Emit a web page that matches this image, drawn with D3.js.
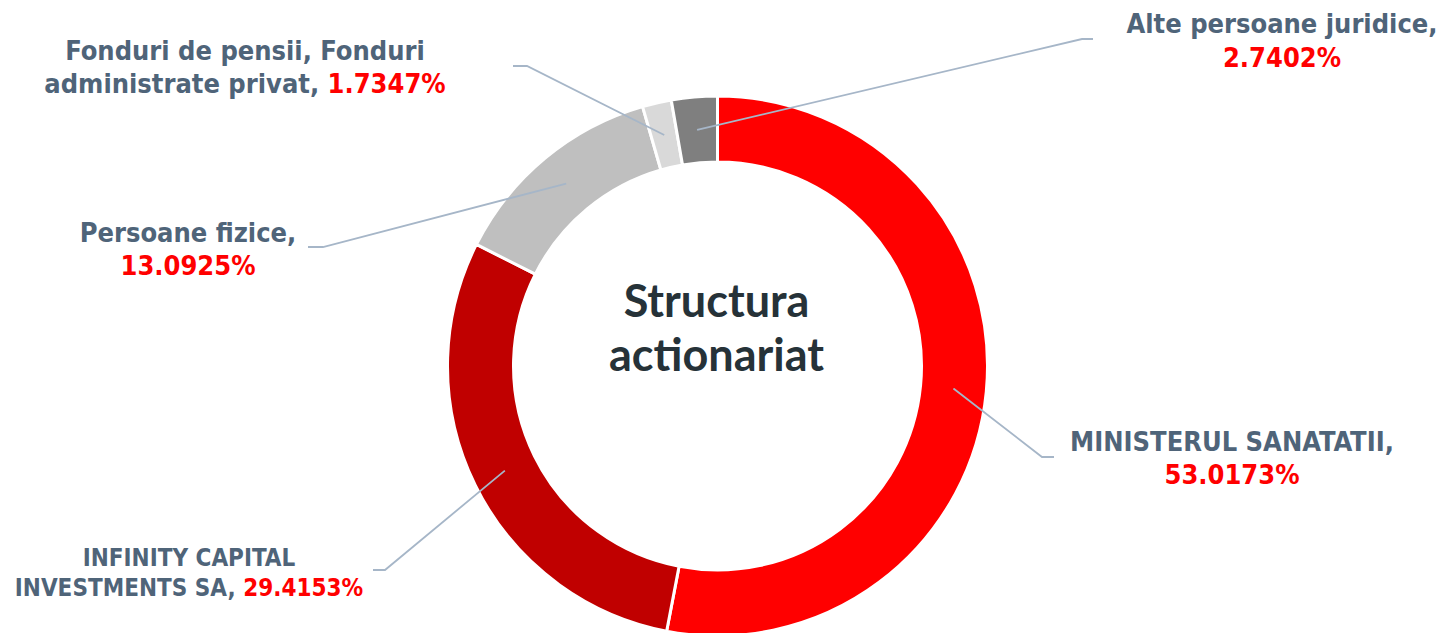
<!DOCTYPE html>
<html>
<head>
<meta charset="utf-8">
<script src="https://cdn.jsdelivr.net/npm/d3@7"></script>
<style>
  body { margin: 0; background: #fff; }
  svg { display: block; }
</style>
</head>
<body>
<svg id="drawing_region"></svg>
<script>
// shareholders, clockwise from 12 o'clock
const categories = [
    "MINISTERUL SANATATII",
    "INFINITY CAPITAL INVESTMENTS SA",
    "Persoane fizice",
    "Fonduri de pensii, Fonduri administrate privat",
    "Alte persoane juridice"
];
const shares = [53.0173, 29.4153, 13.0925, 1.7347, 2.7402];
const colors = ['#ff0000', '#c00000', '#bfbfbf', '#d9d9d9', '#7f7f7f'];

const title_lines = ["Structura", "actionariat"];

// where each callout sits (kink of leader, end of leader, label centre, words on first line)
const callouts = [
    {kink: [1042, 457], end: [1054, 457], x: 1232, y: 451, words: 2, size: 27, gap: 33},
    {kink: [385, 570],  end: [373, 570],  x: 189,  y: 566, words: 2, size: 24, gap: 30},
    {kink: [323, 247],  end: [308, 247],  x: 188,  y: 242, words: 2, size: 27, gap: 33},
    {kink: [527, 66],   end: [513, 66],   x: 245,  y: 60,  words: 4, size: 27, gap: 33},
    {kink: [1082, 39],  end: [1093, 39],  x: 1282, y: 33,  words: 3, size: 27, gap: 34}
];

var config = {
    parent: '#drawing_region',
    width: 1444,
    height: 633,
    cx: 717.5,
    cy: 366,
    outer: 270,
    inner: 204
};

const svg = d3.select(config.parent)
    .attr('width', config.width)
    .attr('height', config.height);

const data = categories.map((c, i) => ({label: c, value: shares[i]}));

const pie = d3.pie()
    .sort(null)
    .value(d => d.value);

const arc = d3.arc()
    .innerRadius(config.inner)
    .outerRadius(config.outer);

const color = d3.scaleOrdinal(colors);
const fmt = d3.format('.4f');

const chart = svg.append('g')
    .attr('transform', `translate(${config.cx}, ${config.cy})`);

const arcs = pie(data);

chart.selectAll('path.slice')
    .data(arcs)
    .enter()
    .append('path')
    .attr('class', 'slice')
    .attr('d', arc)
    .attr('fill', (d, i) => color(i))
    .attr('stroke', 'white')
    .style('stroke-width', '3px');

// leader lines start at the slice centroid
svg.selectAll('polyline.leader')
    .data(arcs)
    .enter()
    .append('polyline')
    .attr('class', 'leader')
    .attr('points', (d, i) => {
        const c = arc.centroid(d);
        const p = [config.cx + c[0], config.cy + c[1]];
        return [p, callouts[i].kink, callouts[i].end].map(q => q.join(',')).join(' ');
    })
    .attr('fill', 'none')
    .attr('stroke', '#a6b6c8')
    .style('stroke-width', '1.8px');

const labels = svg.selectAll('text.label')
    .data(arcs)
    .enter()
    .append('text')
    .attr('class', 'label')
    .attr('text-anchor', 'middle')
    .style('font-family', '"DejaVu Sans Condensed", "DejaVu Sans", sans-serif')
    .style('font-weight', 'bold')
    .style('font-size', (d, i) => callouts[i].size + 'px');

labels.each(function(d, i) {
    const t = d3.select(this);
    const co = callouts[i];
    const words = d.data.label.split(' ');
    const first = words.slice(0, co.words).join(' ');
    const rest = words.slice(co.words).join(' ');
    const val = fmt(d.data.value) + '%';

    t.append('tspan')
        .attr('x', co.x).attr('y', co.y)
        .attr('fill', '#4f6479')
        .text(rest ? first : first + ',');

    const l2 = t.append('tspan')
        .attr('x', co.x).attr('y', co.y + co.gap);
    if (rest) {
        l2.append('tspan').attr('fill', '#4f6479').text(rest + ', ');
    }
    l2.append('tspan').attr('fill', '#ff0000').text(val);
});

svg.append('text')
    .attr('text-anchor', 'middle')
    .style('font-family', 'Lato, "Open Sans", sans-serif')
    .style('font-weight', 'bold')
    .style('font-size', '45px')
    .attr('fill', '#263238')
    .selectAll('tspan')
    .data(title_lines)
    .enter()
    .append('tspan')
    .attr('x', config.cx - 1)
    .attr('y', (d, i) => 317 + i * 54)
    .text(d => d);
</script>
</body>
</html>
